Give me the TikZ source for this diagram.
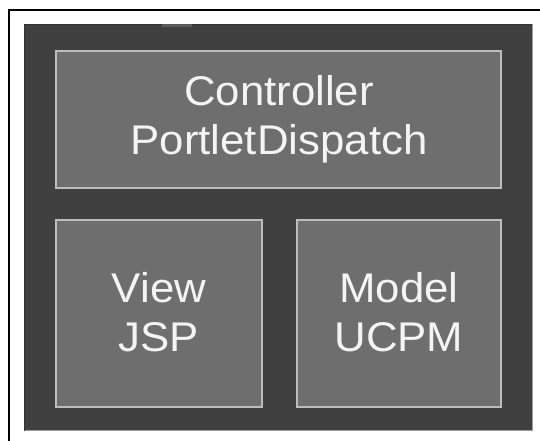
\documentclass[tikz,border=0pt]{standalone}
\usepackage{fontspec}
\setmainfont{Liberation Sans}
\newfontfamily\labelfont[FakeStretch=1.055]{Liberation Sans}
\definecolor{panelbg}{HTML}{404040}
\definecolor{boxfill}{HTML}{6E6E6E}
\definecolor{boxedge}{HTML}{BDBDBD}
\definecolor{labeltext}{HTML}{F4F4F4}
\definecolor{tabgray}{HTML}{5A5A5A}
\tikzset{
  layerbox/.style={draw=boxedge, line width=2.5pt, fill=boxfill},
  layerlabel/.style={text=labeltext, align=center, font=\labelfont\fontsize{41.5}{49}\selectfont, inner sep=0pt}
}
\begin{document}
\begin{tikzpicture}[x=1pt, y=-1pt]
  \useasboundingbox (0,0) rectangle (540,441);
  \fill[white] (0,0) rectangle (540,441);
  % outer frame, running off the page on the right and bottom
  \draw[black, line width=2pt] (9,445) -- (9,10) -- (545,10);
  % dark panel with a bevelled edge
  \fill[panelbg] (24,24) rectangle (533,431);
  \draw[black!80, line width=1pt] (24.5,431) -- (24.5,24.5) -- (533,24.5);
  \draw[gray!75, line width=1pt] (24.5,430.5) -- (532.5,430.5) -- (532.5,24.5);
  \fill[tabgray] (162,24) rectangle (192,27);
  % layers
  \draw[layerbox] (56,51) rectangle (501,188);
  \draw[layerbox] (56,220) rectangle (262,407);
  \draw[layerbox] (297,220) rectangle (501,407);
  \node[layerlabel] (ctrl) at (279,119) {Controller\\PortletDispatch};
  \node[layerlabel] (view) at (159,312) {View\\JSP};
  \node[layerlabel] (model) at (399,312) {Model\\UCPM};
\end{tikzpicture}
\end{document}
